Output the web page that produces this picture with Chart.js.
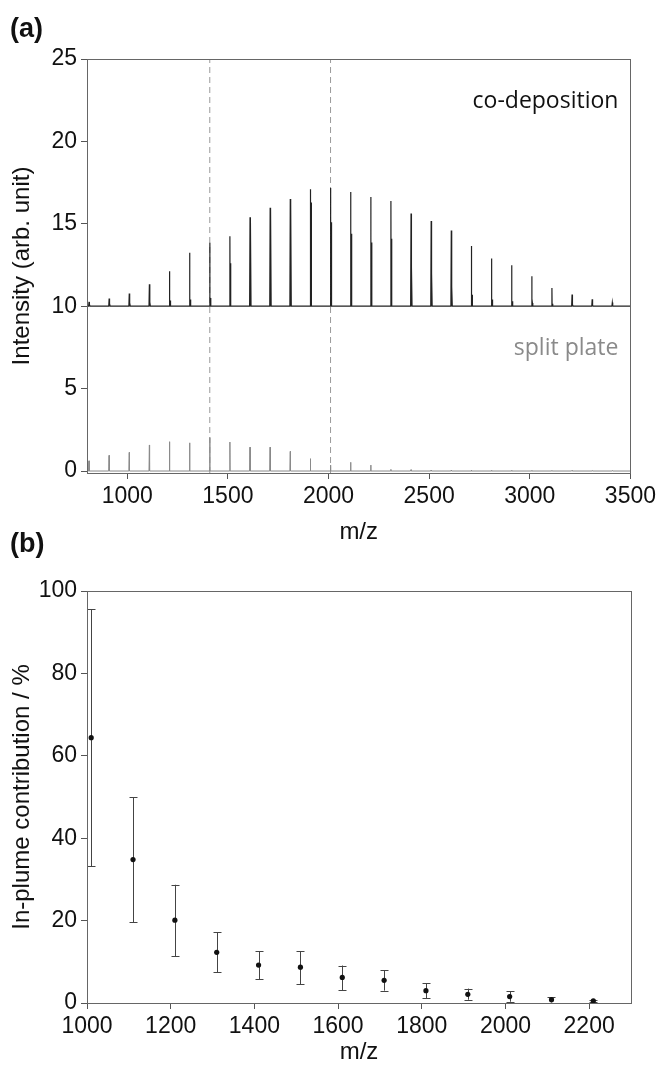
<!DOCTYPE html>
<html>
<head>
<meta charset="utf-8">
<script src="https://cdn.jsdelivr.net/npm/chart.js@4.4.1/dist/chart.umd.min.js"></script>
<style>
  body { margin: 0; background: #fff; }
  #wrap { position: relative; width: 660px; height: 1067px; }
  .tag { position: absolute; left: 10px; font: bold 27px "Liberation Sans", Arial, sans-serif; color: #111; }
  #cA { position: absolute; left: 0; top: 0; }
  #cB { position: absolute; left: 0; top: 560px; }
</style>
</head>
<body>
<div id="wrap">
  <canvas id="cA" width="660" height="560"></canvas>
  <canvas id="cB" width="660" height="507"></canvas>
  <div class="tag" style="top:13px">(a)</div>
  <div class="tag" style="top:528px">(b)</div>
</div>
<script>
// panel (a): peak positions and heights
const mzPeaks = [810, 910, 1010, 1110, 1210, 1310, 1410, 1510, 1610, 1710, 1810, 1910, 2010,
  2110, 2210, 2310, 2410, 2510, 2610, 2710, 2810, 2910, 3010, 3110, 3210, 3310, 3410];
const coDepPeak = [10.26, 10.47, 10.77, 11.33, 12.12, 13.25, 13.85, 14.24, 15.4, 15.98, 16.5, 17.1, 17.17,
  16.93, 16.62, 16.38, 15.62, 15.17, 14.6, 13.65, 12.89, 12.48, 11.82, 11.11, 10.71, 10.42, 10.22];
const coDepIsotope = [10.1, 10.15, 10.2, 10.25, 10.35, 10.4, 10.5, 12.6, 15.1, 15.9, 16.2, 16.3, 15.1,
  14.4, 13.86, 14.1, 12.4, 12.0, 11.2, 10.7, 10.4, 10.3, 10.2, 10.15, 10.1, 10.05, 10.02];
const splitPeak = [0.62, 0.95, 1.13, 1.58, 1.78, 1.71, 2.03, 1.76, 1.45, 1.45, 1.19, 0.75, 0.36,
  0.53, 0.36, 0.1, 0.08, 0.06, 0.05, 0.05, 0.04, 0.04, 0.03, 0.03, 0.03, 0.02, 0.02];
const coDepBase = 10;
const splitBase = 0;
const markerMz = [1410, 2010];
const xTicksA = [1000, 1500, 2000, 2500, 3000, 3500];
const yTicksA = [0, 5, 10, 15, 20, 25];

// panel (b): in-plume contribution with error bars
const contribMz = [1010, 1110, 1210, 1310, 1410, 1510, 1610, 1710, 1810, 1910, 2010, 2110, 2210];
const contribMean = [64.4, 34.8, 20.1, 12.3, 9.2, 8.7, 6.2, 5.5, 3.0, 2.1, 1.55, 0.8, 0.5];
const contribLow = [33.2, 19.6, 11.4, 7.5, 5.8, 4.6, 3.1, 3.0, 1.1, 0.8, 0.3, 0.1, 0.2];
const contribHigh = [95.6, 50.0, 28.7, 17.2, 12.6, 12.6, 9.1, 7.9, 4.8, 3.5, 2.8, 1.4, 0.8];
const xTicksB = [1000, 1200, 1400, 1600, 1800, 2000, 2200];
const yTicksB = [0, 20, 40, 60, 80, 100];

const FONT = '"Liberation Sans", Arial, sans-serif';
const INK = '#111';

function spectrum(base, main, iso) {
  const pts = [{ x: 800, y: base }];
  mzPeaks.forEach((m, i) => {
    pts.push({ x: m - 2, y: base }, { x: m, y: main[i] }, { x: m + 1, y: base });
    if (iso) pts.push({ x: m + 3, y: iso[i] }, { x: m + 5, y: base });
  });
  pts.push({ x: 3500, y: base });
  return pts;
}

const boxPlugin = {
  id: 'box',
  afterDraw(chart) {
    const { ctx, chartArea: a } = chart;
    ctx.save();
    ctx.strokeStyle = '#666';
    ctx.lineWidth = 1;
    ctx.strokeRect(Math.round(a.left) + 0.5, Math.round(a.top) + 0.5,
      Math.round(a.right - a.left), Math.round(a.bottom - a.top));
    ctx.restore();
  }
};

function axis(min, max, tickVals, title, titlePad, size) {
  return {
    type: 'linear',
    min, max,
    afterBuildTicks: s => { s.ticks = tickVals.map(v => ({ value: v })); },
    afterFit: s => { if (s.isHorizontal()) s.height = size; else s.width = size; },
    grid: { display: true, drawOnChartArea: false, drawTicks: true, tickLength: 6, color: '#555' },
    border: { display: false },
    ticks: {
      color: INK, font: { family: FONT, size: 23 }, padding: 4, maxRotation: 0, autoSkip: false,
      callback: v => String(v)
    },
    title: { display: true, text: title, color: INK, font: { family: FONT, size: 24 }, padding: titlePad }
  };
}

const labelPlugin = {
  id: 'labels',
  afterDraw(chart) {
    const { ctx, chartArea: a, scales: { y } } = chart;
    ctx.save();
    ctx.font = '23px "Open Sans", sans-serif';
    ctx.textAlign = 'right';
    ctx.textBaseline = 'alphabetic';
    ctx.fillStyle = '#111';
    ctx.fillText('co-deposition', a.right - 12, y.getPixelForValue(22.0));
    ctx.fillStyle = '#8a8a8a';
    ctx.fillText('split plate', a.right - 12, y.getPixelForValue(7.07));
    ctx.restore();
  }
};

const datasetsA = [
  { data: spectrum(splitBase, splitPeak, null), borderColor: '#8a8a8a', borderWidth: 1 },
  { data: spectrum(coDepBase, coDepPeak, coDepIsotope), borderColor: '#222', borderWidth: 1.2 }
];
markerMz.forEach(m => datasetsA.push({
  data: [{ x: m, y: -0.12 }, { x: m, y: 25 }],
  borderColor: '#9a9a9a', borderWidth: 1, borderDash: [6, 4]
}));

new Chart(document.getElementById('cA'), {
  type: 'line',
  data: { datasets: datasetsA.map(d => Object.assign({ pointRadius: 0, tension: 0, fill: false }, d)) },
  options: {
    responsive: false,
    animation: false,
    layout: { padding: { top: 59, right: 29, left: 0, bottom: 0 } },
    plugins: { legend: { display: false }, tooltip: { enabled: false } },
    scales: {
      x: axis(800, 3500, xTicksA, 'm/z', { top: 0, bottom: 13 }, 87),
      y: axis(-0.12, 25, yTicksA, 'Intensity (arb. unit)', { top: 8, bottom: 0 }, 87)
    }
  },
  plugins: [boxPlugin, labelPlugin]
});

const errorBars = {
  id: 'errorBars',
  beforeDatasetsDraw(chart) {
    const { ctx, scales: { x, y } } = chart;
    ctx.save();
    ctx.strokeStyle = '#444';
    ctx.lineWidth = 1;
    contribMz.forEach((m, i) => {
      const px = Math.round(x.getPixelForValue(m)) + 0.5;
      const lo = y.getPixelForValue(contribLow[i]);
      const hi = y.getPixelForValue(contribHigh[i]);
      ctx.beginPath();
      ctx.moveTo(px, lo); ctx.lineTo(px, hi);
      ctx.moveTo(px - 4, Math.round(lo) + 0.5); ctx.lineTo(px + 4, Math.round(lo) + 0.5);
      ctx.moveTo(px - 4, Math.round(hi) + 0.5); ctx.lineTo(px + 4, Math.round(hi) + 0.5);
      ctx.stroke();
    });
    ctx.restore();
  }
};

new Chart(document.getElementById('cB'), {
  type: 'scatter',
  data: {
    datasets: [{
      data: contribMz.map((m, i) => ({ x: m, y: contribMean[i] })),
      pointRadius: 2.6, pointBackgroundColor: '#111', pointBorderWidth: 0, showLine: false
    }]
  },
  options: {
    responsive: false,
    animation: false,
    layout: { padding: { top: 31, right: 29, left: 0, bottom: 0 } },
    plugins: { legend: { display: false }, tooltip: { enabled: false } },
    scales: {
      x: axis(1000, 2300, xTicksB, 'm/z', { top: 0, bottom: 0 }, 64),
      y: axis(0, 100, yTicksB, 'In-plume contribution / %', { top: 8, bottom: 0 }, 87)
    }
  },
  plugins: [boxPlugin, errorBars]
});
</script>
</body>
</html>
